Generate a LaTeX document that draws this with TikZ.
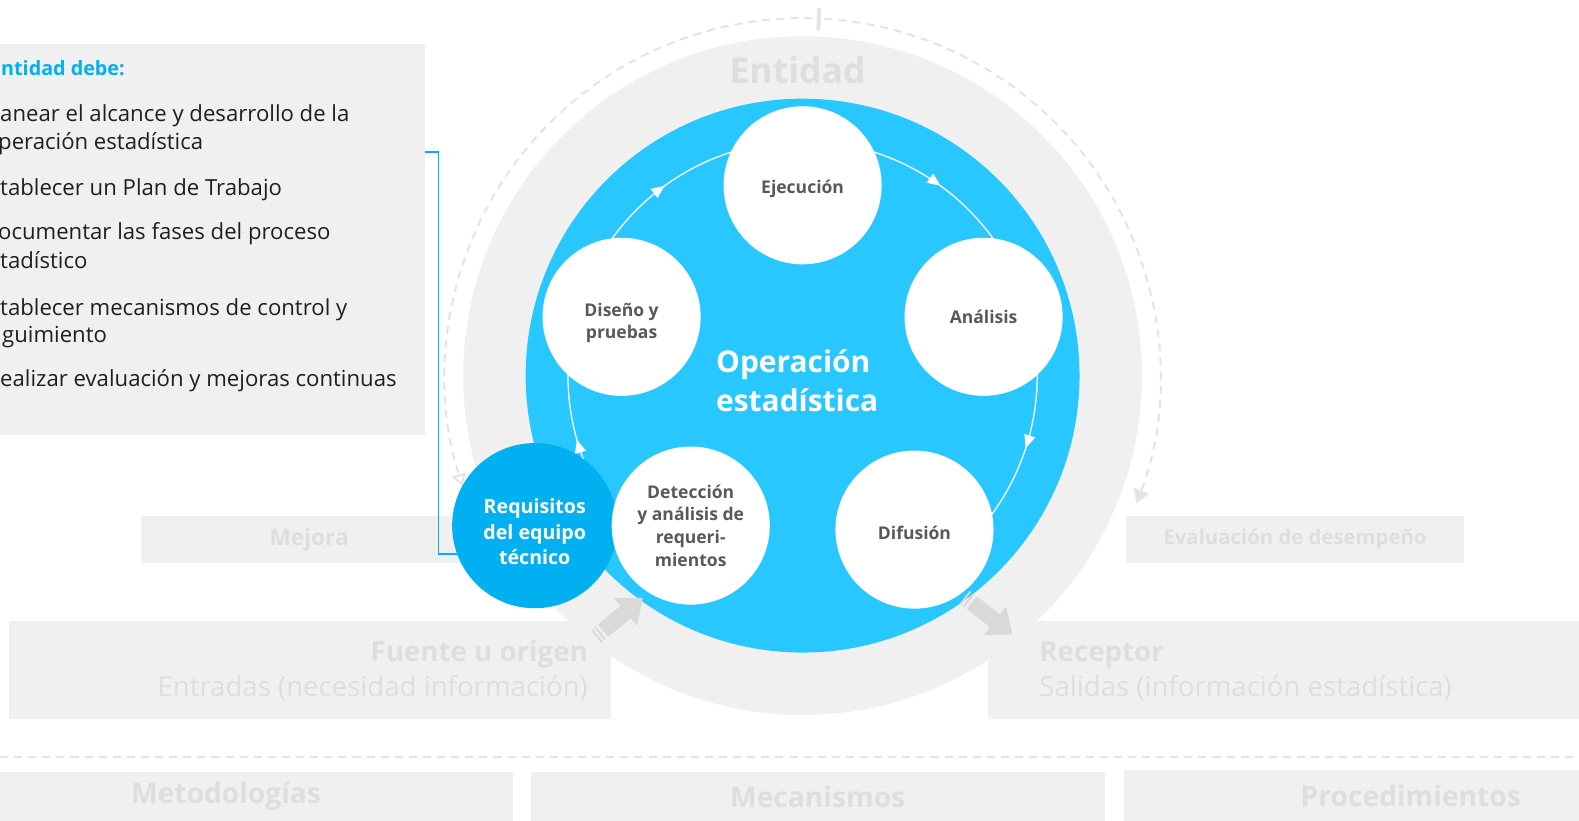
\documentclass[tikz,border=0pt]{standalone}
\usepackage{fontspec}
\setmainfont{Open Sans}
\usepackage{xcolor}
\usetikzlibrary{arrows.meta, positioning, decorations.markings}

\definecolor{boxgray}{RGB}{240,240,240}
\definecolor{fadetext}{RGB}{222,222,222}
\definecolor{dashgray}{RGB}{228,228,228}
\definecolor{arrowgray}{RGB}{217,217,217}
\definecolor{skyblue}{RGB}{41,199,255}
\definecolor{deepblue}{RGB}{0,176,240}
\definecolor{nodetext}{RGB}{89,89,89}

\begin{document}
\begin{tikzpicture}[x=1pt, y=1pt,
    graybox/.style={fill=boxgray, inner sep=0pt},
    fadetitle/.style={text=fadetext, font=\bfseries\fontsize{22.5}{26}\selectfont},
    fadebig/.style={inner sep=0pt, text=fadetext, font=\bfseries\fontsize{27.5}{32}\selectfont},
    fadelight/.style={inner sep=0pt, text=fadetext, font=\fontsize{27.4}{32}\selectfont},
    listline/.style={anchor=base west, inner sep=0pt, text=black!88, font=\fontsize{22}{27}\selectfont},
    phase/.style={circle, fill=white, minimum size=157pt, inner sep=0pt, align=center,
      text=nodetext, font=\bfseries\fontsize{17.4}{22.5}\selectfont},
    cyclearc/.style={draw=white, line width=1.3pt, postaction={decorate},
      decoration={markings, mark=at position #1 with {\arrow[white]{Triangle[length=13pt,width=11pt]}}}},
    cyclearc/.default=0.5,
    dashring/.style={draw=dashgray, line width=2pt, dash pattern=on 8pt off 6pt}]

  \useasboundingbox (0,0) rectangle (1568,815);
  \coordinate (c) at (797,442);

  % what the entity must do
  \node[graybox, anchor=south west, minimum width=422pt, minimum height=388pt] (entbox) at (0,383) {};
  \node[anchor=base west, inner sep=0pt, text=deepblue, font=\bfseries\fontsize{19.6}{22}\selectfont] (enttitle) at (1,740) {ntidad debe:};
  \node[listline] (l1) at (0,694) {anear el alcance y desarrollo de la};
  \node[listline] (l2) at (-2,667) {peración estadística};
  \node[listline] (l3) at (0,621) {tablecer un Plan de Trabajo};
  \node[listline] (l4) at (-2,577) {ocumentar las fases del proceso};
  \node[listline] (l5) at (0,548) {tadístico};
  \node[listline] (l6) at (0,502) {tablecer mecanismos de control y};
  \node[listline] (l7) at (2,475) {guimiento};
  \node[listline] (l8) at (0,431) {ealizar evaluación y mejoras continuas};

  % side boxes
  \node[graybox, minimum width=334pt, minimum height=47pt, fadetitle] (mejora) at (307,279.5) {Mejora};
  \node[graybox, minimum width=335pt, minimum height=47pt, fadetitle,
    font=\bfseries\fontsize{20.2}{24}\selectfont] (evalua) at (1286,279.5) {Evaluación de desempeño};

  % input and output
  \node[graybox, anchor=south west, minimum width=598pt, minimum height=97pt] (fuente) at (9,101) {};
  \node[graybox, anchor=south west, minimum width=640pt, minimum height=97pt] (receptor) at (981,101) {};
  \node[fadebig, anchor=base east] (fuentet) at (584,158) {Fuente u origen};
  \node[fadelight, anchor=base east] (fuentes) at (584,123) {Entradas (necesidad información)};
  \node[fadebig, anchor=base west] (recept) at (1032,158) {Receptor};
  \node[fadelight, anchor=base west] (recepts) at (1032,123) {Salidas (información estadística)};

  % bottom row
  \draw[dashring] (0,63) -- (1568,63);
  \node[graybox, minimum width=570pt, minimum height=48pt, fadebig, font=\bfseries\fontsize{28}{32}\selectfont] (metodo) at (224.5,24) {Metodologías};
  \node[graybox, minimum width=570pt, minimum height=48pt, fadebig, font=\bfseries\fontsize{28}{32}\selectfont] (mecan) at (812,24) {Mecanismos};
  \node[graybox, minimum width=570pt, minimum height=50pt, fadebig, font=\bfseries\fontsize{28}{32}\selectfont] (proced) at (1401,25) {Procedimientos};

  % entity ring
  \fill[boxgray] (c) circle[radius=337];
  \node[fadebig, font=\bfseries\fontsize{35.3}{40}\selectfont] (entidad) at (792,745) {Entidad};
  \draw[dashring, -{Triangle[length=14pt,width=16pt]}] (c) ++(86.5:355) arc[start angle=86.5, end angle=-21, radius=355];
  \draw[dashring, -{Triangle[open,length=12pt,width=14pt]}] (c) ++(88.4:355) arc[start angle=88.4, end angle=198, radius=355];
  \draw[dashgray, line width=4pt] (c) ++(87.4:343) -- ++(87.4:22);

  % operation
  \fill[skyblue] (c) circle[radius=275];
  \draw[cyclearc] (c) ++(162:233) arc[start angle=162, end angle=90, radius=233];
  \draw[cyclearc] (c) ++(90:233) arc[start angle=90, end angle=18, radius=233];
  \draw[cyclearc] (c) ++(18:233) arc[start angle=18, end angle=-54, radius=233];
  \draw[cyclearc=0.53] (c) ++(234:233) arc[start angle=234, end angle=162, radius=233];

  \node[anchor=west, inner sep=0pt, align=left, text=white, font=\bfseries\fontsize{29.7}{39}\selectfont] (oper) at (711,437) {Operación\\estadística};

  \draw[deepblue, line width=1.5pt] (entbox.east |- 0,664) -- ++(13,0) |- (531,265);
  \node[circle, fill=deepblue, minimum size=164pt, inner sep=0pt, align=center, text=white,
    font=\bfseries\fontsize{19.5}{25}\selectfont] (req) at (531,293) {\\[1.8pt]Requisitos\\del equipo\\técnico};

  \path (c) ++(90:189) node[phase] (ejec) {\\[-3pt]Ejecución};
  \path (c) ++(18:189) node[phase] (anal) {Análisis};
  \path (c) ++(-54:189) node[phase] (difu) {\\[-3pt]Difusión};
  \path (c) ++(-126:189) ++(0,4) node[phase] (detec) {Detección\\y análisis de\\requeri-\\mientos};
  \path (c) ++(162:189) node[phase] (dise) {\\[3pt]Diseño y\\pruebas};

  % block arrows in and out
  \begin{scope}[shift={(592,183)}, rotate=39.6]
    \fill[arrowgray] (0,-8) rectangle (2,8) (4,-8) rectangle (6,8);
    \fill[arrowgray] (9,-8) -- (38,-8) -- (38,-18) -- (60,0) -- (38,18) -- (38,8) -- (9,8) -- cycle;
  \end{scope}
  \begin{scope}[shift={(958,222)}, rotate=-38]
    \fill[arrowgray] (0,-8) rectangle (2,8) (4,-8) rectangle (6,8);
    \fill[arrowgray] (9,-8) -- (38,-8) -- (38,-18) -- (60,0) -- (38,18) -- (38,8) -- (9,8) -- cycle;
  \end{scope}
\end{tikzpicture}
\end{document}
